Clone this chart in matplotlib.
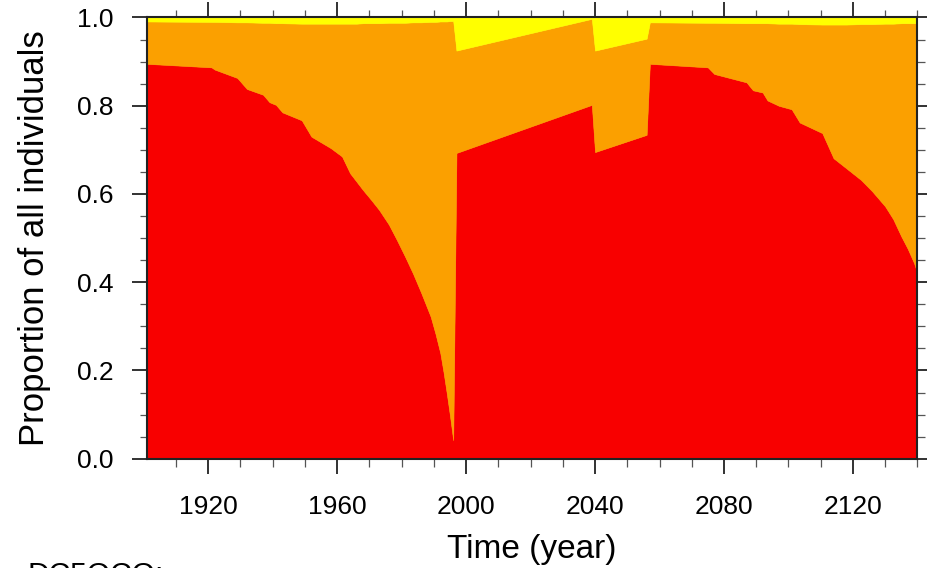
import numpy as np
import matplotlib
matplotlib.use("Agg")
import matplotlib.pyplot as plt
from matplotlib.ticker import MultipleLocator, FormatStrFormatter

plt.rcParams['font.family'] = ['Liberation Sans', 'DejaVu Sans']

# year of each sample
years = [1901, 1921, 1922, 1929, 1932, 1937, 1939, 1941, 1943, 1949, 1952,
         1958, 1961.5, 1964, 1966, 1968, 1970.5, 1973, 1976, 1978.5, 1981,
         1983.5, 1986, 1989, 1990.5, 1992, 1993, 1994, 1995, 1996, 1997,
         2039, 2040, 2056, 2057, 2075, 2077, 2087, 2089, 2092, 2093.5, 2097,
         2101, 2103.5, 2110.5, 2114, 2118, 2122.5, 2126, 2130, 2132.5, 2135,
         2137, 2139, 2140]

# share of the red group
red_share = [0.895, 0.887, 0.882, 0.863, 0.838, 0.825, 0.808, 0.802, 0.785,
             0.767, 0.730, 0.704, 0.685, 0.647, 0.628, 0.609, 0.587, 0.564,
             0.531, 0.496, 0.459, 0.420, 0.377, 0.322, 0.283, 0.239, 0.196,
             0.148, 0.097, 0.042, 0.693, 0.802, 0.695, 0.734, 0.895, 0.887,
             0.872, 0.853, 0.835, 0.830, 0.812, 0.800, 0.792, 0.762, 0.738,
             0.681, 0.658, 0.632, 0.606, 0.572, 0.543, 0.504, 0.476, 0.443,
             0.420]

# share of the yellow group
yellow_share = [0.009, 0.010, 0.010, 0.011, 0.011, 0.012, 0.012, 0.013,
                0.013, 0.014, 0.014, 0.014, 0.014, 0.014, 0.014, 0.013,
                0.013, 0.013, 0.012, 0.012, 0.012, 0.011, 0.011, 0.010,
                0.010, 0.009, 0.009, 0.009, 0.008, 0.008, 0.075, 0.003,
                0.075, 0.048, 0.011, 0.012, 0.012, 0.013, 0.013, 0.013,
                0.013, 0.014, 0.014, 0.015, 0.016, 0.016, 0.016, 0.015,
                0.015, 0.014, 0.014, 0.013, 0.013, 0.013, 0.013]

yrs = np.array(years)
red = np.array(red_share)
yellow = np.array(yellow_share)
orange = 1.0 - red - yellow   # the rest of the population

colors = ['#f80000', '#fba000', '#ffff00']

fig = plt.figure(figsize=(9.27, 5.68), dpi=100)
ax = fig.add_axes([0.1586, 0.1924, 0.8310, 0.7768])

polys = ax.stackplot(yrs, red, orange, yellow, colors=colors)
for p, c in zip(polys, colors):
    p.set_edgecolor(c)
    p.set_linewidth(0.4)

ax.set_xlim(1901, 2140)
ax.set_ylim(0, 1)

ax.xaxis.set_major_locator(MultipleLocator(40))
ax.xaxis.set_minor_locator(MultipleLocator(10))
ax.yaxis.set_major_locator(MultipleLocator(0.2))
ax.yaxis.set_minor_locator(MultipleLocator(0.05))
ax.yaxis.set_major_formatter(FormatStrFormatter('%.1f'))

ax.tick_params(which='both', direction='out', top=True, right=True,
               labelsize=19, color='#222222')
ax.tick_params(which='major', length=10.8, width=1.3)
ax.tick_params(which='minor', length=5.4, width=0.9, color='#555555')
ax.tick_params(axis='x', which='major', pad=15)
ax.tick_params(axis='y', which='major', pad=13)

for s in ax.spines.values():
    s.set_linewidth(1.5)
    s.set_color('#222222')

ax.set_xlabel('Time (year)', fontsize=24, va='center')
ax.xaxis.set_label_coords(0.5, -0.205)
ax.set_ylabel('Proportion of all individuals', fontsize=25, va='center')
ax.yaxis.set_label_coords(-0.1467, 0.5)

fig.text(0.030, -0.0257, 'DC5OCO:', fontsize=21.6, va='baseline')

fig.savefig('out.png', dpi=100)
